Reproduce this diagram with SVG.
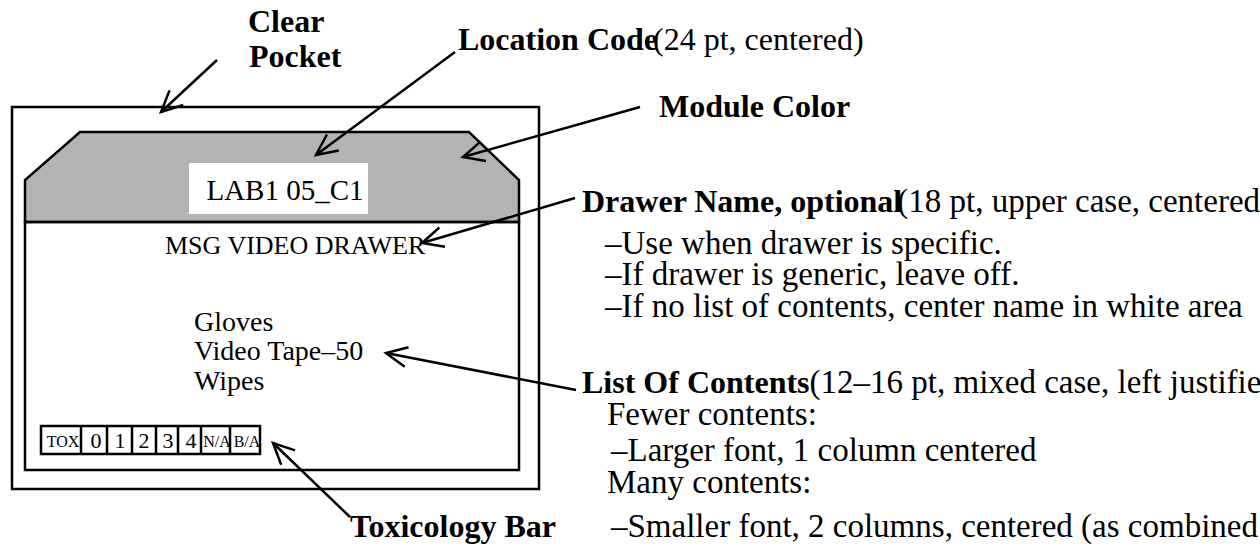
<svg xmlns="http://www.w3.org/2000/svg" width="1260" height="554" viewBox="0 0 1260 554">
<style>
text{font-family:"Liberation Serif","Times New Roman",serif;fill:#000}
.b{font-weight:bold}
.lbl{font-size:32px}
.d{font-size:33px}
.box{fill:none;stroke:#000;stroke-width:2.5}
.cell{fill:#fff;stroke:#000;stroke-width:2.5}
.conn{stroke:#000;stroke-width:2.5;fill:none;marker-end:url(#ah)}
.tx{font-size:16px;text-anchor:middle}
.td{font-size:22px;text-anchor:middle}
</style>
<defs>
<marker id="ah" markerUnits="userSpaceOnUse" markerWidth="30" markerHeight="30" viewBox="-24 -12 30 24" refX="0" refY="0" orient="auto">
<path d="M-21,-10 L0,0 L-21,10" fill="none" stroke="#000" stroke-width="2.5"/>
</marker>
</defs>
<rect width="1260" height="554" fill="#fff"/>

<g id="clear-pocket">
<rect class="box" x="12" y="107" width="527" height="382"/>
</g>

<g id="module">
<path d="M80,132 L469,132 L519,180 L519,222 L25,222 L25,180 Z" fill="#b3b3b3" stroke="#000" stroke-width="2.5"/>
<rect class="box" x="25" y="222" width="494" height="248"/>
</g>

<g id="location-code-box">
<rect x="189" y="163" width="179" height="51" fill="#fff"/>
<text x="285" y="200" font-size="29" text-anchor="middle">LAB1 05_C1</text>
</g>

<g id="drawer-name">
<text x="165" y="254" font-size="26">MSG VIDEO DRAWER</text>
</g>

<g id="contents">
<text x="194" y="331" font-size="28">Gloves</text>
<text x="194" y="360" font-size="28">Video Tape–50</text>
<text x="194" y="390" font-size="28">Wipes</text>
</g>

<g id="tox-bar">
<rect class="cell" x="41" y="426" width="219" height="28"/>
<path d="M81,426V454M107,426V454M132,426V454M156,426V454M178,426V454M201,426V454M230,426V454" stroke="#000" stroke-width="2.5"/>
<text class="tx" x="63" y="447">TOX</text>
<text class="td" x="96" y="448">0</text>
<text class="td" x="120" y="448">1</text>
<text class="td" x="144" y="448">2</text>
<text class="td" x="168" y="448">3</text>
<text class="td" x="191" y="448">4</text>
<text class="tx" x="217" y="447">N/A</text>
<text class="tx" x="247" y="447">B/A</text>
</g>

<g id="label-clear-pocket">
<text class="b lbl" x="248" y="32">Clear</text>
<text class="b lbl" x="249" y="67">Pocket</text>
</g>

<g id="label-location-code">
<text class="lbl" x="458" y="50"><tspan class="b">Location Code</tspan><tspan dx="-5">(24 pt, centered)</tspan></text>
</g>

<g id="label-module-color">
<text class="b lbl" x="659" y="117">Module Color</text>
</g>

<g id="label-drawer-name">
<text class="lbl" x="582" y="212"><tspan class="b">Drawer Name, optional</tspan><tspan class="d" dx="-5">(18 pt, upper case, centered</tspan></text>
<text class="d" x="605" y="254">–Use when drawer is specific.</text>
<text class="d" x="605" y="285">–If drawer is generic, leave off.</text>
<text class="d" x="605" y="317">–If no list of contents, center name in white area</text>
</g>

<g id="label-list-of-contents">
<text class="lbl" x="582" y="393"><tspan class="b">List Of Contents</tspan><tspan class="d">(12–16 pt, mixed case, left justified</tspan></text>
<text class="d" x="607" y="425">Fewer contents:</text>
<text class="d" x="611" y="461">–Larger font, 1 column centered</text>
<text class="d" x="607" y="493">Many contents:</text>
<text class="d" x="611" y="537">–Smaller font, 2 columns, centered (as combined</text>
</g>

<g id="label-toxicology-bar">
<text class="b lbl" x="350" y="537">Toxicology Bar</text>
</g>

<g id="connectors">
<line class="conn" x1="217" y1="60" x2="161" y2="112"/>
<line class="conn" x1="455" y1="52" x2="316" y2="155"/>
<line class="conn" x1="640" y1="107" x2="463" y2="157"/>
<line class="conn" x1="575" y1="198" x2="422" y2="243"/>
<line class="conn" x1="576" y1="390" x2="386" y2="353"/>
<line class="conn" x1="350" y1="517" x2="273" y2="443"/>
</g>
</svg>
